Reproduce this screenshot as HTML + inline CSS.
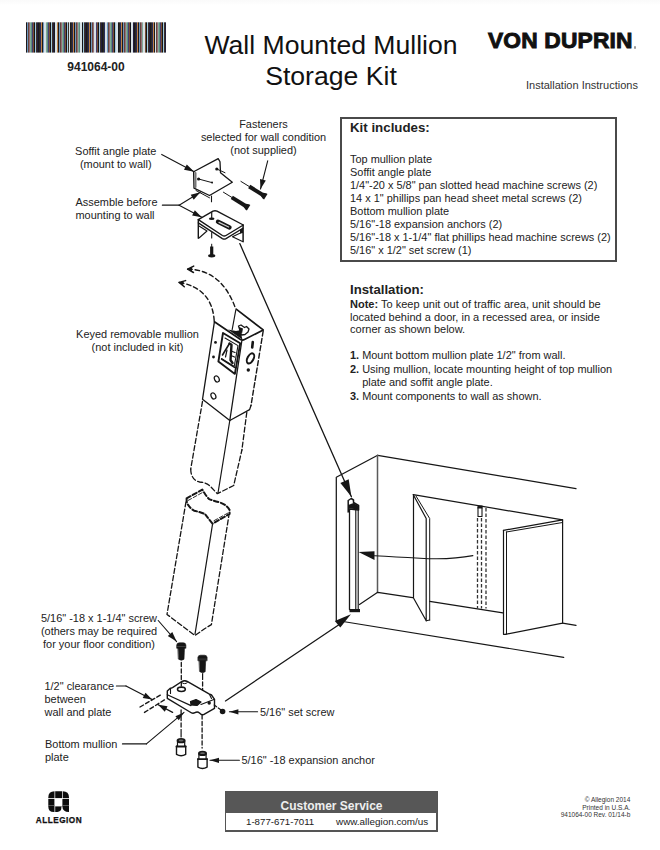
<!DOCTYPE html>
<html><head><meta charset="utf-8">
<style>
html,body{margin:0;padding:0;background:#fff;}
body{width:660px;height:850px;position:relative;overflow:hidden;font-family:"Liberation Sans",sans-serif;color:#222;}
.t{position:absolute;font-size:10.95px;line-height:13px;white-space:pre;}
.c{text-align:center;}
.r{text-align:right;}
b{font-weight:bold;}
svg{position:absolute;left:0;top:0;}
</style></head><body>
<div style="position:absolute;left:0;top:0;width:660px;height:5px;background:linear-gradient(#fafafa,#fdfdfd 70%,#fff)"></div>
<!-- barcode -->
<svg width="660" height="850" style="position:absolute;left:0;top:0" id="barcode"><rect x="26" y="22.3" width="1" height="30.3" fill="rgb(30, 25, 25)"/><rect x="27" y="22.3" width="1" height="30.3" fill="rgb(110, 150, 190)"/><rect x="28" y="22.3" width="1" height="30.3" fill="rgb(100, 70, 60)"/><rect x="29" y="22.3" width="1" height="30.3" fill="rgb(150, 110, 120)"/><rect x="30" y="22.3" width="1" height="30.3" fill="rgb(130, 170, 150)"/><rect x="31" y="22.3" width="1" height="30.3" fill="rgb(90, 140, 130)"/><rect x="32" y="22.3" width="1" height="30.3" fill="rgb(70, 60, 110)"/><rect x="33" y="22.3" width="1" height="30.3" fill="rgb(120, 80, 50)"/><rect x="34" y="22.3" width="1" height="30.3" fill="rgb(20, 20, 25)"/><rect x="35" y="22.3" width="1" height="30.3" fill="rgb(160, 200, 220)"/><rect x="36" y="22.3" width="1" height="30.3" fill="rgb(60, 50, 40)"/><rect x="37" y="22.3" width="1" height="30.3" fill="rgb(35, 30, 60)"/><rect x="38" y="22.3" width="1" height="30.3" fill="rgb(25, 25, 30)"/><rect x="39" y="22.3" width="1" height="30.3" fill="rgb(45, 40, 35)"/><rect x="40" y="22.3" width="1" height="30.3" fill="rgb(40, 45, 90)"/><rect x="41" y="22.3" width="1" height="30.3" fill="rgb(190, 130, 70)"/><rect x="42" y="22.3" width="1" height="30.3" fill="rgb(30, 25, 25)"/><rect x="43" y="22.3" width="1" height="30.3" fill="rgb(110, 150, 190)"/><rect x="44" y="22.3" width="1" height="30.3" fill="rgb(215, 225, 230)"/><rect x="45" y="22.3" width="1" height="30.3" fill="rgb(215, 225, 230)"/><rect x="46" y="22.3" width="1" height="30.3" fill="rgb(130, 170, 150)"/><rect x="47" y="22.3" width="1" height="30.3" fill="rgb(90, 140, 130)"/><rect x="48" y="22.3" width="1" height="30.3" fill="rgb(70, 60, 110)"/><rect x="49" y="22.3" width="1" height="30.3" fill="rgb(120, 80, 50)"/><rect x="50" y="22.3" width="1" height="30.3" fill="rgb(20, 20, 25)"/><rect x="51" y="22.3" width="1" height="30.3" fill="rgb(160, 200, 220)"/><rect x="52" y="22.3" width="1" height="30.3" fill="rgb(60, 50, 40)"/><rect x="53" y="22.3" width="1" height="30.3" fill="rgb(35, 30, 60)"/><rect x="54" y="22.3" width="1" height="30.3" fill="rgb(25, 25, 30)"/><rect x="55" y="22.3" width="1" height="30.3" fill="rgb(215, 225, 230)"/><rect x="56" y="22.3" width="1" height="30.3" fill="rgb(215, 225, 230)"/><rect x="57" y="22.3" width="1" height="30.3" fill="rgb(190, 130, 70)"/><rect x="58" y="22.3" width="1" height="30.3" fill="rgb(30, 25, 25)"/><rect x="59" y="22.3" width="1" height="30.3" fill="rgb(110, 150, 190)"/><rect x="60" y="22.3" width="1" height="30.3" fill="rgb(100, 70, 60)"/><rect x="61" y="22.3" width="1" height="30.3" fill="rgb(150, 110, 120)"/><rect x="62" y="22.3" width="1" height="30.3" fill="rgb(130, 170, 150)"/><rect x="63" y="22.3" width="1" height="30.3" fill="rgb(90, 140, 130)"/><rect x="64" y="22.3" width="1" height="30.3" fill="rgb(70, 60, 110)"/><rect x="65" y="22.3" width="1" height="30.3" fill="rgb(120, 80, 50)"/><rect x="66" y="22.3" width="1" height="30.3" fill="rgb(20, 20, 25)"/><rect x="67" y="22.3" width="1" height="30.3" fill="rgb(160, 200, 220)"/><rect x="68" y="22.3" width="1" height="30.3" fill="rgb(60, 50, 40)"/><rect x="69" y="22.3" width="1" height="30.3" fill="rgb(215, 225, 230)"/><rect x="70" y="22.3" width="1" height="30.3" fill="rgb(25, 25, 30)"/><rect x="71" y="22.3" width="1" height="30.3" fill="rgb(45, 40, 35)"/><rect x="72" y="22.3" width="1" height="30.3" fill="rgb(40, 45, 90)"/><rect x="73" y="22.3" width="1" height="30.3" fill="rgb(190, 130, 70)"/><rect x="74" y="22.3" width="1" height="30.3" fill="rgb(30, 25, 25)"/><rect x="75" y="22.3" width="1" height="30.3" fill="rgb(110, 150, 190)"/><rect x="76" y="22.3" width="1" height="30.3" fill="rgb(100, 70, 60)"/><rect x="77" y="22.3" width="1" height="30.3" fill="rgb(150, 110, 120)"/><rect x="78" y="22.3" width="1" height="30.3" fill="rgb(130, 170, 150)"/><rect x="79" y="22.3" width="1" height="30.3" fill="rgb(90, 140, 130)"/><rect x="80" y="22.3" width="1" height="30.3" fill="rgb(215, 225, 230)"/><rect x="81" y="22.3" width="1" height="30.3" fill="rgb(215, 225, 230)"/><rect x="82" y="22.3" width="1" height="30.3" fill="rgb(20, 20, 25)"/><rect x="83" y="22.3" width="1" height="30.3" fill="rgb(160, 200, 220)"/><rect x="84" y="22.3" width="1" height="30.3" fill="rgb(60, 50, 40)"/><rect x="85" y="22.3" width="1" height="30.3" fill="rgb(35, 30, 60)"/><rect x="86" y="22.3" width="1" height="30.3" fill="rgb(25, 25, 30)"/><rect x="87" y="22.3" width="1" height="30.3" fill="rgb(45, 40, 35)"/><rect x="88" y="22.3" width="1" height="30.3" fill="rgb(40, 45, 90)"/><rect x="89" y="22.3" width="1" height="30.3" fill="rgb(190, 130, 70)"/><rect x="90" y="22.3" width="1" height="30.3" fill="rgb(30, 25, 25)"/><rect x="91" y="22.3" width="1" height="30.3" fill="rgb(110, 150, 190)"/><rect x="92" y="22.3" width="1" height="30.3" fill="rgb(100, 70, 60)"/><rect x="93" y="22.3" width="1" height="30.3" fill="rgb(150, 110, 120)"/><rect x="94" y="22.3" width="1" height="30.3" fill="rgb(215, 225, 230)"/><rect x="95" y="22.3" width="1" height="30.3" fill="rgb(215, 225, 230)"/><rect x="96" y="22.3" width="1" height="30.3" fill="rgb(70, 60, 110)"/><rect x="97" y="22.3" width="1" height="30.3" fill="rgb(120, 80, 50)"/><rect x="98" y="22.3" width="1" height="30.3" fill="rgb(20, 20, 25)"/><rect x="99" y="22.3" width="1" height="30.3" fill="rgb(160, 200, 220)"/><rect x="100" y="22.3" width="1" height="30.3" fill="rgb(60, 50, 40)"/><rect x="101" y="22.3" width="1" height="30.3" fill="rgb(35, 30, 60)"/><rect x="102" y="22.3" width="1" height="30.3" fill="rgb(25, 25, 30)"/><rect x="103" y="22.3" width="1" height="30.3" fill="rgb(45, 40, 35)"/><rect x="104" y="22.3" width="1" height="30.3" fill="rgb(40, 45, 90)"/><rect x="105" y="22.3" width="1" height="30.3" fill="rgb(215, 225, 230)"/><rect x="106" y="22.3" width="1" height="30.3" fill="rgb(215, 225, 230)"/><rect x="107" y="22.3" width="1" height="30.3" fill="rgb(110, 150, 190)"/><rect x="108" y="22.3" width="1" height="30.3" fill="rgb(100, 70, 60)"/><rect x="109" y="22.3" width="1" height="30.3" fill="rgb(150, 110, 120)"/><rect x="110" y="22.3" width="1" height="30.3" fill="rgb(130, 170, 150)"/><rect x="111" y="22.3" width="1" height="30.3" fill="rgb(90, 140, 130)"/><rect x="112" y="22.3" width="1" height="30.3" fill="rgb(70, 60, 110)"/><rect x="113" y="22.3" width="1" height="30.3" fill="rgb(120, 80, 50)"/><rect x="114" y="22.3" width="1" height="30.3" fill="rgb(20, 20, 25)"/><rect x="115" y="22.3" width="1" height="30.3" fill="rgb(160, 200, 220)"/><rect x="116" y="22.3" width="1" height="30.3" fill="rgb(215, 225, 230)"/><rect x="117" y="22.3" width="1" height="30.3" fill="rgb(215, 225, 230)"/><rect x="118" y="22.3" width="1" height="30.3" fill="rgb(25, 25, 30)"/><rect x="119" y="22.3" width="1" height="30.3" fill="rgb(45, 40, 35)"/><rect x="120" y="22.3" width="1" height="30.3" fill="rgb(40, 45, 90)"/><rect x="121" y="22.3" width="1" height="30.3" fill="rgb(190, 130, 70)"/><rect x="122" y="22.3" width="1" height="30.3" fill="rgb(30, 25, 25)"/><rect x="123" y="22.3" width="1" height="30.3" fill="rgb(110, 150, 190)"/><rect x="124" y="22.3" width="1" height="30.3" fill="rgb(100, 70, 60)"/><rect x="125" y="22.3" width="1" height="30.3" fill="rgb(150, 110, 120)"/><rect x="126" y="22.3" width="1" height="30.3" fill="rgb(130, 170, 150)"/><rect x="127" y="22.3" width="1" height="30.3" fill="rgb(90, 140, 130)"/><rect x="128" y="22.3" width="1" height="30.3" fill="rgb(70, 60, 110)"/><rect x="129" y="22.3" width="1" height="30.3" fill="rgb(120, 80, 50)"/><rect x="130" y="22.3" width="1" height="30.3" fill="rgb(20, 20, 25)"/><rect x="131" y="22.3" width="1" height="30.3" fill="rgb(215, 225, 230)"/><rect x="132" y="22.3" width="1" height="30.3" fill="rgb(215, 225, 230)"/><rect x="133" y="22.3" width="1" height="30.3" fill="rgb(35, 30, 60)"/><rect x="134" y="22.3" width="1" height="30.3" fill="rgb(25, 25, 30)"/><rect x="135" y="22.3" width="1" height="30.3" fill="rgb(45, 40, 35)"/><rect x="136" y="22.3" width="1" height="30.3" fill="rgb(40, 45, 90)"/><rect x="137" y="22.3" width="1" height="30.3" fill="rgb(190, 130, 70)"/><rect x="138" y="22.3" width="1" height="30.3" fill="rgb(30, 25, 25)"/><rect x="139" y="22.3" width="1" height="30.3" fill="rgb(110, 150, 190)"/><rect x="140" y="22.3" width="1" height="30.3" fill="rgb(100, 70, 60)"/><rect x="141" y="22.3" width="1" height="30.3" fill="rgb(150, 110, 120)"/><rect x="142" y="22.3" width="1" height="30.3" fill="rgb(130, 170, 150)"/><rect x="143" y="22.3" width="1" height="30.3" fill="rgb(215, 225, 230)"/><rect x="144" y="22.3" width="1" height="30.3" fill="rgb(215, 225, 230)"/><rect x="145" y="22.3" width="1" height="30.3" fill="rgb(120, 80, 50)"/><rect x="146" y="22.3" width="1" height="30.3" fill="rgb(20, 20, 25)"/><rect x="147" y="22.3" width="1" height="30.3" fill="rgb(160, 200, 220)"/><rect x="148" y="22.3" width="1" height="30.3" fill="rgb(60, 50, 40)"/><rect x="149" y="22.3" width="1" height="30.3" fill="rgb(35, 30, 60)"/><rect x="150" y="22.3" width="1" height="30.3" fill="rgb(25, 25, 30)"/><rect x="151" y="22.3" width="1" height="30.3" fill="rgb(45, 40, 35)"/><rect x="152" y="22.3" width="1" height="30.3" fill="rgb(40, 45, 90)"/><rect x="153" y="22.3" width="1" height="30.3" fill="rgb(190, 130, 70)"/><rect x="154" y="22.3" width="1" height="30.3" fill="rgb(30, 25, 25)"/><rect x="155" y="22.3" width="1" height="30.3" fill="rgb(215, 225, 230)"/><rect x="156" y="22.3" width="1" height="30.3" fill="rgb(100, 70, 60)"/><rect x="157" y="22.3" width="1" height="30.3" fill="rgb(150, 110, 120)"/><rect x="158" y="22.3" width="1" height="30.3" fill="rgb(130, 170, 150)"/><rect x="159" y="22.3" width="1" height="30.3" fill="rgb(90, 140, 130)"/><rect x="160" y="22.3" width="1" height="30.3" fill="rgb(70, 60, 110)"/><rect x="161" y="22.3" width="1" height="30.3" fill="rgb(120, 80, 50)"/><rect x="162" y="22.3" width="1" height="30.3" fill="rgb(20, 20, 25)"/><rect x="163" y="22.3" width="1" height="30.3" fill="rgb(160, 200, 220)"/><rect x="164" y="22.3" width="1" height="30.3" fill="rgb(60, 50, 40)"/><rect x="165" y="22.3" width="1" height="30.3" fill="rgb(35, 30, 60)"/>
<path d="M48.3,797.4 Q48.3,791.2 54.5,791.2 L62.8,791.2 Q69,791.2 69,797.4 L69,812.1 Q62.4,811.8 62.4,806.4 L61.4,806.4 L61.4,807.8 Q61.4,811.9 57.3,811.9 L53.8,811.9 Q48.3,811.9 48.3,806.4 Z" fill="#0d0d0d"/>
<rect x="54.8" y="798.4" width="7.6" height="8" fill="#fff"/>
<rect x="54.5" y="791" width="0.7" height="22" fill="#fff"/>
<rect x="62.0" y="791" width="0.7" height="8" fill="#fff"/>
<rect x="48" y="798.0" width="22" height="0.8" fill="#fff"/>
<rect x="48" y="805.2" width="6.6" height="0.6" fill="#888"/><rect x="62.6" y="805.2" width="6.6" height="0.6" fill="#888"/>
</svg>
<div class="t" style="left:67.3px;top:60px;font-size:12px;line-height:14px;font-weight:bold;color:#222">941064-00</div>
<!-- title -->
<div class="t c" style="left:181px;top:29.5px;width:300px;font-size:26.6px;line-height:31px;color:#111">Wall Mounted Mullion
Storage Kit</div>
<div class="t" style="left:487.5px;top:28.3px;font-size:21.5px;line-height:24px;font-weight:bold;letter-spacing:0.15px;color:#111;-webkit-text-stroke:0.9px #111;transform-origin:0 0;transform:scale(1.06,1.03)">VON DUPRIN</div>
<div style="position:absolute;left:633.5px;top:46px;width:2.5px;height:2.5px;border-radius:50%;background:#999"></div>
<div class="t" style="left:526px;top:79px;font-size:11px;line-height:12px;color:#333">Installation Instructions</div>

<!-- kit box -->
<div style="position:absolute;left:340px;top:116.5px;width:276.5px;height:145px;border:2px solid #4a4a4a;border-right-width:2.3px;border-bottom-width:2.3px;box-sizing:border-box"></div>
<div class="t" style="left:350px;top:120.2px;font-size:13.3px;line-height:15px;font-weight:bold">Kit includes:</div>
<div class="t" style="left:350px;top:152.5px">Top mullion plate
Soffit angle plate
1/4"-20 x 5/8" pan slotted head machine screws (2)
14 x 1" phillips pan head sheet metal screws (2)
Bottom mullion plate
5/16"-18 expansion anchors (2)
5/16"-18 x 1-1/4" flat phillips head machine screws (2)
5/16" x 1/2" set screw (1)</div>

<div class="t" style="left:350px;top:281.5px;font-size:13.2px;line-height:15px;font-weight:bold">Installation:</div>
<div class="t" style="left:350px;top:297.9px;line-height:12.7px;font-size:11.02px"><b>Note:</b> To keep unit out of traffic area, unit should be
located behind a door, in a recessed area, or inside
corner as shown below.</div>
<div class="t" style="left:350px;top:349px"><b>1.</b> Mount bottom mullion plate 1/2" from wall.</div>
<div class="t" style="left:350px;top:363px"><b>2.</b> Using mullion, locate mounting height of top mullion
    plate and soffit angle plate.</div>
<div class="t" style="left:350px;top:389.5px"><b>3.</b> Mount components to wall as shown.</div>

<!-- labels -->
<div class="t c" style="left:113.5px;top:117.5px;width:300px">Fasteners
selected for wall condition
(not supplied)</div>
<div class="t c" style="left:-34.25px;top:144.6px;width:300px">Soffit angle plate
(mount to wall)</div>
<div class="t" style="left:75.5px;top:195.5px">Assemble before
mounting to wall</div>
<div class="t c" style="left:37.5px;top:327.7px;width:200px">Keyed removable mullion
(not included in kit)</div>
<div class="t c" style="left:-1px;top:611.7px;width:200px">5/16" -18 x 1-1/4" screw
(others may be required
for your floor condition)</div>
<div class="t" style="left:44.5px;top:680px">1/2" clearance
between
wall and plate</div>
<div class="t" style="left:45px;top:737.7px">Bottom mullion
plate</div>
<div class="t" style="left:260px;top:705.5px">5/16" set screw</div>
<div class="t" style="left:241.5px;top:754px">5/16" -18 expansion anchor</div>

<!-- footer -->
<div style="position:absolute;left:225px;top:790.5px;width:213px;height:41px;border:1.5px solid #555;border-right-width:2px;border-bottom-width:2px;box-sizing:border-box;background:#fff"></div>
<div style="position:absolute;left:226px;top:791.5px;width:211px;height:21px;background:#575757"></div>
<div class="t" style="left:280.5px;top:799px;font-size:12px;line-height:14px;font-weight:bold;color:#eee">Customer Service</div>
<div class="t" style="left:246px;top:816px;font-size:9.7px;line-height:11px;color:#222">1-877-671-7011</div>
<div class="t" style="left:336px;top:816px;font-size:9.9px;line-height:11px;color:#222">www.allegion.com/us</div>
<div class="t" style="left:35.8px;top:815.5px;font-size:8.2px;line-height:9px;font-weight:bold;letter-spacing:0.5px;color:#111;-webkit-text-stroke:0.25px #111">ALLEGION</div>
<div class="t r" style="left:530.3px;top:796px;width:100px;font-size:6.5px;line-height:7.6px;color:#333">© Allegion 2014
Printed in U.S.A.
941064-00 Rev. 01/14-b</div>

<svg width="660" height="850" viewBox="0 0 660 850" id="draw">
<path d="M161.7,154.4 L194.2,171.8" fill="none" stroke="#161616" stroke-width="1.1" stroke-linecap="round" stroke-linejoin="round"/>
<polygon points="194.2,171.8 184.0,169.7 186.8,164.4" fill="#161616"/>
<path d="M162.4,205.2 L179.1,205.2" fill="none" stroke="#161616" stroke-width="1.2" stroke-linecap="round" stroke-linejoin="round"/>
<path d="M179.1,205.2 L200.3,192.3" fill="none" stroke="#161616" stroke-width="1.1" stroke-linecap="round" stroke-linejoin="round"/>
<polygon points="200.3,192.3 193.7,199.7 190.7,194.8" fill="#161616"/>
<path d="M179.1,205.2 L201.8,217.3" fill="none" stroke="#161616" stroke-width="1.1" stroke-linecap="round" stroke-linejoin="round"/>
<polygon points="201.8,217.3 192.1,215.4 194.8,210.3" fill="#161616"/>
<path d="M267.7,160.9 L260.5,189.0" fill="none" stroke="#161616" stroke-width="1.1" stroke-linecap="round" stroke-linejoin="round"/>
<polygon points="260.5,189.0 260.0,179.1 265.8,180.5" fill="#161616"/>
<path d="M240.9,181.4 L249.2,186.5" fill="none" stroke="#161616" stroke-width="1.0" stroke-linecap="round" stroke-linejoin="round"/>
<path d="M249.2,186.5 L264.5,196.0" fill="none" stroke="#161616" stroke-width="4.0" stroke-linecap="butt" stroke-linejoin="round"/>
<polygon points="260.9,196.1 262.8,198.8 264.1,199.6 267.5,194.0 266.2,193.2 263.0,192.7" fill="#161616"/>
<path d="M223.4,192.2 L231.8,197.4" fill="none" stroke="#161616" stroke-width="1.0" stroke-linecap="round" stroke-linejoin="round"/>
<path d="M231.8,197.4 L247.3,207.0" fill="none" stroke="#161616" stroke-width="4.0" stroke-linecap="butt" stroke-linejoin="round"/>
<polygon points="243.7,207.1 245.6,209.8 246.9,210.6 250.3,205.0 249.0,204.2 245.8,203.7" fill="#161616"/>
<path d="M193.6,171.8 L218.2,158.6 L220.0,161.8 L220.5,172.7 L232.3,182.3 L209.5,195.5 L194.0,188.2 L193.6,171.8" fill="none" stroke="#161616" stroke-width="1.3" stroke-linecap="round" stroke-linejoin="round"/>
<path d="M195.5,173.0 L195.5,187.0" fill="none" stroke="#777" stroke-width="2" stroke-linecap="round" stroke-linejoin="round"/>
<path d="M196.0,190.5 L209.5,197.8" fill="none" stroke="#161616" stroke-width="1.0" stroke-linecap="round" stroke-linejoin="round"/>
<path d="M211.5,196.0 L211.5,201.7" fill="none" stroke="#161616" stroke-width="1.1" stroke-linecap="round" stroke-linejoin="round"/>
<path d="M198.6,179.0 L212.3,182.7" fill="none" stroke="#161616" stroke-width="1.0" stroke-linecap="round" stroke-linejoin="round"/>
<circle cx="198.6" cy="179" r="1.6" fill="#161616"/>
<circle cx="212" cy="182.6" r="1.0" fill="#161616"/>
<path d="M216.8,169.0 L225.0,172.7" fill="none" stroke="#161616" stroke-width="1.0" stroke-linecap="round" stroke-linejoin="round"/>
<circle cx="216.8" cy="169" r="1.6" fill="#161616"/>
<path d="M198.3,219.6 L213,211.2 Q215,210.2 217,211.2 L243.3,225 L226,235.5 Q224.2,236.6 222.4,235.5 Z" fill="none" stroke="#161616" stroke-width="1.4" stroke-linecap="round" stroke-linejoin="round"/>
<path d="M198.3,219.6 L198.3,238.3" fill="none" stroke="#161616" stroke-width="1.4" stroke-linecap="round" stroke-linejoin="round"/>
<path d="M198.3,222.9 L222.4,238.6 Q224.2,239.6 226,238.6 L242.9,228.3" fill="none" stroke="#161616" stroke-width="1.3" stroke-linecap="round" stroke-linejoin="round"/>
<path d="M243.1,225 L243.1,241.7" fill="none" stroke="#161616" stroke-width="1.5" stroke-linecap="round" stroke-linejoin="round"/>
<path d="M199,226 L207,231 L199,238" fill="none" stroke="#161616" stroke-width="1.1" stroke-linecap="round" stroke-linejoin="round"/>
<path d="M242.5,232 L232.5,236.7 L242.5,241.5" fill="none" stroke="#161616" stroke-width="1.1" stroke-linecap="round" stroke-linejoin="round"/>
<polygon points="240,229.5 243,228 243,233 240,233.5" fill="#161616"/>
<path d="M218,221.8 L229.5,227.4" fill="none" stroke="#161616" stroke-width="4.4" stroke-linecap="round" stroke-linejoin="round"/>
<path d="M219,222.4 L228.6,227.0" fill="none" stroke="#ccc" stroke-width="1.2" stroke-linecap="round" stroke-linejoin="round"/>
<path d="M211.7,212.5 L211.7,218.5" fill="none" stroke="#161616" stroke-width="1.2" stroke-linecap="round" stroke-linejoin="round"/>
<ellipse cx="211.7" cy="218.8" rx="2.8" ry="1.3" fill="#161616"/>
<path d="M211.7,232.5 L211.7,238.0" fill="none" stroke="#161616" stroke-width="1.1" stroke-linecap="round" stroke-linejoin="round"/>
<path d="M211.7,244.2 L211.7,247.0" fill="none" stroke="#161616" stroke-width="1.0" stroke-linecap="round" stroke-linejoin="round"/>
<path d="M211.7,246.5 L211.7,255.0" fill="none" stroke="#161616" stroke-width="3.2" stroke-linecap="butt" stroke-linejoin="round"/>
<ellipse cx="211.7" cy="255.8" rx="3.6" ry="1.7" fill="#161616"/>
<path d="M239.8,243.6 L351.4,496.7" fill="none" stroke="#161616" stroke-width="1.3" stroke-linecap="round" stroke-linejoin="round"/>
<polygon points="351.4,496.7 340.4,483.0 348.7,479.3" fill="#161616"/>
<path d="M187.6,269.1 Q222,270 235.5,308.5" fill="none" stroke="#161616" stroke-width="1.4" stroke-linecap="round" stroke-linejoin="round" stroke-dasharray="4.5,3"/>
<path d="M179.1,282.4 Q212,288 214.2,320.6" fill="none" stroke="#161616" stroke-width="1.4" stroke-linecap="round" stroke-linejoin="round" stroke-dasharray="4.5,3"/>
<path d="M193.7,266.1 L187.6,269.1 L193.5,272.5" fill="none" stroke="#161616" stroke-width="1.5" stroke-linecap="round" stroke-linejoin="round"/>
<polygon points="187.6,269.1 192.2,267.3 192.0,271.2" fill="#161616"/>
<path d="M185.6,280.6 L179.1,282.4 L184.3,286.8" fill="none" stroke="#161616" stroke-width="1.5" stroke-linecap="round" stroke-linejoin="round"/>
<polygon points="179.1,282.4 183.9,281.5 183.1,285.2" fill="#161616"/>
<path d="M214.4,321.8 L240.5,339.5 Q242.5,340.6 244.5,339.6 L263.2,329.9 L236.2,309.1" fill="none" stroke="#161616" stroke-width="1.7" stroke-linecap="round" stroke-linejoin="round"/>
<path d="M235.8,310.0 L232.2,329.5" fill="none" stroke="#161616" stroke-width="1.2" stroke-linecap="round" stroke-linejoin="round"/>
<path d="M214.4,321.8 L202.5,399.3 L229.8,420.5 L249.6,409.6 L251.0,405.5" fill="none" stroke="#161616" stroke-width="1.3" stroke-linecap="round" stroke-linejoin="round"/>
<path d="M241.8,341.0 L229.8,420.5" fill="none" stroke="#161616" stroke-width="1.3" stroke-linecap="round" stroke-linejoin="round"/>
<path d="M263.2,331.0 L251.0,405.5" fill="none" stroke="#161616" stroke-width="1.4" stroke-linecap="round" stroke-linejoin="round" stroke-dasharray="5,2.5"/>
<path d="M223,333 L240.2,343.3 L234.9,373.9 L218.4,361.6 Z" fill="none" stroke="#161616" stroke-width="1.9" stroke-linecap="round" stroke-linejoin="round"/>
<path d="M225,338 L238,345.6 L234.2,366.5 L221.5,358.5" fill="none" stroke="#161616" stroke-width="1.1" stroke-linecap="round" stroke-linejoin="round"/>
<path d="M221.5,359.2 L234.5,367.4" fill="none" stroke="#161616" stroke-width="1.4" stroke-linecap="round" stroke-linejoin="round"/>
<path d="M222.5,355 L229.5,343.5" fill="none" stroke="#161616" stroke-width="1.6" stroke-linecap="round" stroke-linejoin="round"/>
<path d="M229.5,343.5 L231.5,344.8 L230.5,360 L232.5,363" fill="none" stroke="#161616" stroke-width="2.4" stroke-linecap="round" stroke-linejoin="round"/>
<path d="M231,351 L235,352.5 M231,355.5 L234.5,357" fill="none" stroke="#161616" stroke-width="1.3" stroke-linecap="round" stroke-linejoin="round"/>
<path d="M227,350 L225.5,357" fill="none" stroke="#161616" stroke-width="1.2" stroke-linecap="round" stroke-linejoin="round"/>
<polygon points="228,329.5 242.5,339.8 240.2,330.3 236,331" fill="#161616"/>
<path d="M238.5,326 L241,325 L244.5,327.5 L246.5,326.5 L249,329 L248,332 L245,334.5 L241.5,335 Z" fill="none" stroke="#161616" stroke-width="1.3" stroke-linecap="round" stroke-linejoin="round"/>
<polygon points="239,327 243,328.5 242,333.5 239.5,331" fill="#161616"/>
<ellipse cx="215.5" cy="342.4" rx="1.4" ry="1.4" fill="#161616"/>
<ellipse cx="213.5" cy="357" rx="1.4" ry="1.4" fill="#161616"/>
<ellipse cx="250.5" cy="358.4" rx="5.5" ry="3.0" transform="rotate(-62 250.5 358.4)" fill="none" stroke="#161616" stroke-width="2.0"/>
<path d="M252.8,342 L252.2,347.5" fill="none" stroke="#161616" stroke-width="2.6" stroke-linecap="round" stroke-linejoin="round"/>
<ellipse cx="248.3" cy="370" rx="1.7" ry="1.7" fill="#161616"/>
<ellipse cx="216.8" cy="378.9" rx="2.3" ry="3.2" transform="rotate(-25 216.8 378.9)" fill="none" stroke="#161616" stroke-width="1.2"/>
<ellipse cx="213.4" cy="395.9" rx="2.3" ry="3.2" transform="rotate(-25 213.4 395.9)" fill="none" stroke="#161616" stroke-width="1.2"/>
<path d="M202.5,401.4 L190.7,469.1" fill="none" stroke="#161616" stroke-width="1.3" stroke-linecap="round" stroke-linejoin="round" stroke-dasharray="5,2.5"/>
<path d="M190.7,469.1 Q191,480 199.6,482 Q207,482.5 211,487 L217.3,493.7 L233.7,485.5 L241.9,450" fill="none" stroke="#161616" stroke-width="1.3" stroke-linecap="round" stroke-linejoin="round" stroke-dasharray="5,2.5"/>
<path d="M246.8,412.3 L241.9,450.0" fill="none" stroke="#161616" stroke-width="1.3" stroke-linecap="round" stroke-linejoin="round" stroke-dasharray="5,2.5"/>
<path d="M229.8,420.5 L218.0,493.0" fill="none" stroke="#161616" stroke-width="1.2" stroke-linecap="round" stroke-linejoin="round"/>
<path d="M186.6,498.4 L202.3,489.6 Q206,496 209.1,499.1 Q214,501 220,502.5 Q227,505 229.6,510 L229.6,514 L212.5,523.7 Q208,518 205,514.1 Q200,512 194.1,510.7 Q187,506 186.6,500.5 Z" fill="none" stroke="#161616" stroke-width="2.0" stroke-linecap="round" stroke-linejoin="round" stroke-dasharray="4.5,2.5"/>
<path d="M188.0,500.5 L202.5,492.5" fill="none" stroke="#161616" stroke-width="0.9" stroke-linecap="round" stroke-linejoin="round" stroke-dasharray="4,2"/>
<path d="M228.0,513.0 L212.5,521.5" fill="none" stroke="#161616" stroke-width="0.9" stroke-linecap="round" stroke-linejoin="round" stroke-dasharray="4,2"/>
<path d="M186.0,501.8 L167.0,614.4 L195.0,635.5 L204.6,628.7 L211.4,624.6 L228.9,515.5" fill="none" stroke="#161616" stroke-width="1.3" stroke-linecap="round" stroke-linejoin="round" stroke-dasharray="5,2.5"/>
<path d="M212.5,524.4 L195.0,634.1" fill="none" stroke="#161616" stroke-width="1.2" stroke-linecap="round" stroke-linejoin="round"/>
<path d="M158.2,620.5 L176.6,641.6" fill="none" stroke="#161616" stroke-width="1.1" stroke-linecap="round" stroke-linejoin="round"/>
<polygon points="176.6,641.6 167.8,636.0 172.3,632.1" fill="#161616"/>
<path d="M176.70000000000002,648.0 L176.70000000000002,645.0 Q176.9,642.8 179.3,642.8 L183.3,642.8 Q185.70000000000002,642.8 185.9,645.0 L185.9,648.0 Z" fill="#161616" stroke="#161616" stroke-width="0.6" stroke-linecap="round" stroke-linejoin="round"/>
<path d="M178.10000000000002,647.8 L184.5,647.8 L184.0,659.3 Q181.3,661.4 178.60000000000002,659.3 Z" fill="#161616" stroke="#161616" stroke-width="0.6" stroke-linecap="round" stroke-linejoin="round"/>
<rect x="176.9" y="646.4" width="8.8" height="0.5" fill="#666"/>
<path d="M181.3,662.5 L181.3,686.0" fill="none" stroke="#161616" stroke-width="1.3" stroke-linecap="round" stroke-linejoin="round" stroke-dasharray="4,2.5"/>
<path d="M197.9,660.4000000000001 L197.9,657.4000000000001 Q198.1,655.2 200.5,655.2 L204.5,655.2 Q206.9,655.2 207.1,657.4000000000001 L207.1,660.4000000000001 Z" fill="#161616" stroke="#161616" stroke-width="0.6" stroke-linecap="round" stroke-linejoin="round"/>
<path d="M199.3,660.2 L205.7,660.2 L205.2,671.7 Q202.5,673.8000000000001 199.8,671.7 Z" fill="#161616" stroke="#161616" stroke-width="0.6" stroke-linecap="round" stroke-linejoin="round"/>
<rect x="198.1" y="658.8000000000001" width="8.8" height="0.5" fill="#666"/>
<path d="M202.6,673.5 L202.6,679.5" fill="none" stroke="#161616" stroke-width="1.2" stroke-linecap="round" stroke-linejoin="round"/>
<path d="M202.6,682.0 L202.6,690.0" fill="none" stroke="#161616" stroke-width="1.3" stroke-linecap="round" stroke-linejoin="round" stroke-dasharray="4,2.5"/>
<path d="M167.3,691.1 L170,688.5 L172.5,687.6 L181.8,681.5 Q184.5,679.8 187.2,681.3 L209,693.8 L211.5,695 L214.5,699.3 L214.5,708.4 L203.6,714.7 Q201.5,715.3 199.5,713 Q197.5,711.2 195,712.6 Q192.5,714 190,712 L167.3,698.4 Z" fill="none" stroke="#161616" stroke-width="1.4" stroke-linecap="round" stroke-linejoin="round"/>
<path d="M167.3,694.7 L191,705.6" fill="none" stroke="#161616" stroke-width="1.2" stroke-linecap="round" stroke-linejoin="round"/>
<path d="M201,704.5 L214.5,699.3" fill="none" stroke="#161616" stroke-width="1.2" stroke-linecap="round" stroke-linejoin="round"/>
<ellipse cx="181.4" cy="689.3" rx="3.9" ry="2.2" fill="none" stroke="#161616" stroke-width="1.6"/>
<ellipse cx="184.6" cy="682.3" rx="2.6" ry="1.3" fill="none" stroke="#161616" stroke-width="1.0"/>
<path d="M190.5,701.5 L196,699.6 L201,702 L197,705.5 L191,705 Z" fill="#161616" stroke="#161616" stroke-width="1.2" stroke-linecap="round" stroke-linejoin="round"/>
<circle cx="209.2" cy="703" r="1.7" fill="#161616"/>
<path d="M170.5,689.0 L170.5,693.5" fill="none" stroke="#161616" stroke-width="1.1" stroke-linecap="round" stroke-linejoin="round"/>
<path d="M209.5,694.5 L211.5,698.5" fill="none" stroke="#161616" stroke-width="1.1" stroke-linecap="round" stroke-linejoin="round"/>
<path d="M214.2,705.0 L222.6,711.0" fill="none" stroke="#161616" stroke-width="1.2" stroke-linecap="round" stroke-linejoin="round" stroke-dasharray="3,2"/>
<circle cx="222.6" cy="711.5" r="2.8" fill="#161616"/>
<path d="M257.6,711.8 L229.4,711.8" fill="none" stroke="#161616" stroke-width="1.1" stroke-linecap="round" stroke-linejoin="round"/>
<polygon points="229.4,711.8 238.4,709.2 238.4,714.4" fill="#161616"/>
<path d="M181.1,710.0 L181.1,727.0" fill="none" stroke="#161616" stroke-width="1.3" stroke-linecap="round" stroke-linejoin="round" stroke-dasharray="4,2.5"/>
<path d="M181.1,729.5 L181.1,737.0" fill="none" stroke="#161616" stroke-width="1.2" stroke-linecap="round" stroke-linejoin="round"/>
<path d="M202.1,715.0 L202.1,748.0" fill="none" stroke="#161616" stroke-width="1.3" stroke-linecap="round" stroke-linejoin="round" stroke-dasharray="4,2.5"/>
<path d="M140.0,707.0 L160.5,695.0" fill="none" stroke="#161616" stroke-width="1.4" stroke-linecap="round" stroke-linejoin="round" stroke-dasharray="4,2.5"/>
<path d="M144.5,712.4 L165.0,699.5" fill="none" stroke="#161616" stroke-width="1.4" stroke-linecap="round" stroke-linejoin="round" stroke-dasharray="4,2.5"/>
<path d="M116.4,686.0 L126.0,686.0" fill="none" stroke="#161616" stroke-width="1.2" stroke-linecap="round" stroke-linejoin="round"/>
<path d="M126.0,686.0 L152.1,699.5" fill="none" stroke="#161616" stroke-width="1.3" stroke-linecap="round" stroke-linejoin="round"/>
<polygon points="152.1,699.5 142.7,698.0 145.5,692.7" fill="#161616"/>
<path d="M172.6,712.4 L158.2,704.8" fill="none" stroke="#161616" stroke-width="1.3" stroke-linecap="round" stroke-linejoin="round"/>
<polygon points="158.2,704.8 167.6,706.3 164.8,711.7" fill="#161616"/>
<path d="M122.5,743.9 L146.4,743.9" fill="none" stroke="#161616" stroke-width="1.2" stroke-linecap="round" stroke-linejoin="round"/>
<path d="M146.4,743.9 L184.0,712.4" fill="none" stroke="#161616" stroke-width="1.1" stroke-linecap="round" stroke-linejoin="round"/>
<polygon points="184.0,712.4 178.8,720.2 175.4,716.2" fill="#161616"/>
<path d="M176.5,746.1999999999999 L176.5,754.4 Q181.1,757.1 185.7,754.4 L185.7,746.1999999999999" fill="#fff" stroke="#161616" stroke-width="1.4" stroke-linecap="round" stroke-linejoin="round"/>
<path d="M177.5,741.9 L177.5,746.1999999999999 M184.7,741.9 L184.7,746.1999999999999" fill="none" stroke="#161616" stroke-width="1.2" stroke-linecap="round" stroke-linejoin="round"/>
<path d="M176.5,746.5 L185.7,746.5" fill="none" stroke="#161616" stroke-width="1.8" stroke-linecap="round" stroke-linejoin="round"/>
<ellipse cx="181.1" cy="740.6999999999999" rx="4.5" ry="2.6" fill="#161616"/>
<ellipse cx="181.1" cy="740.5" rx="2.4" ry="0.9" fill="#666"/>
<path d="M197.9,758.9 L197.9,767.1 Q202.5,769.8000000000001 207.1,767.1 L207.1,758.9" fill="#fff" stroke="#161616" stroke-width="1.4" stroke-linecap="round" stroke-linejoin="round"/>
<path d="M198.9,754.6 L198.9,758.9 M206.1,754.6 L206.1,758.9" fill="none" stroke="#161616" stroke-width="1.2" stroke-linecap="round" stroke-linejoin="round"/>
<path d="M197.9,759.2 L207.1,759.2" fill="none" stroke="#161616" stroke-width="1.8" stroke-linecap="round" stroke-linejoin="round"/>
<ellipse cx="202.5" cy="753.4" rx="4.5" ry="2.6" fill="#161616"/>
<ellipse cx="202.5" cy="753.2" rx="2.4" ry="0.9" fill="#666"/>
<path d="M239.4,760.3 L210.0,760.3" fill="none" stroke="#161616" stroke-width="1.1" stroke-linecap="round" stroke-linejoin="round"/>
<polygon points="210.0,760.3 219.0,757.7 219.0,762.9" fill="#161616"/>
<path d="M225.5,701.0 L340.0,624.0" fill="none" stroke="#161616" stroke-width="1.25" stroke-linecap="round" stroke-linejoin="round"/>
<polygon points="350.9,614.2 334.8,620.9 340.3,627.6" fill="#161616"/>
<path d="M336.3,620.6 L336.3,477.3 L377.7,455.3 L576.0,488.6" fill="none" stroke="#161616" stroke-width="1.25" stroke-linecap="round" stroke-linejoin="round"/>
<path d="M377.5,455.3 L377.5,592.3" fill="none" stroke="#5a5a5a" stroke-width="1.5" stroke-linecap="round" stroke-linejoin="round"/>
<path d="M343.0,621.5 L563.7,657.3" fill="none" stroke="#161616" stroke-width="1.2" stroke-linecap="round" stroke-linejoin="round"/>
<path d="M359.5,604.5 L377.7,592.3 L412.6,597.6" fill="none" stroke="#161616" stroke-width="1.2" stroke-linecap="round" stroke-linejoin="round"/>
<path d="M413.3,494.7 L562.6,519.9" fill="none" stroke="#161616" stroke-width="1.2" stroke-linecap="round" stroke-linejoin="round"/>
<path d="M413.5,494.7 L413.5,597.6" fill="none" stroke="#161616" stroke-width="1.2" stroke-linecap="round" stroke-linejoin="round"/>
<path d="M413.3,494.7 L426.2,518.5 L426.2,620.8 L413.5,598" fill="none" stroke="#161616" stroke-width="1.2" stroke-linecap="round" stroke-linejoin="round"/>
<path d="M416.0,496.0 L429.7,518.5 L429.7,620.0" fill="none" stroke="#161616" stroke-width="1.0" stroke-linecap="round" stroke-linejoin="round"/>
<path d="M426.2,620.8 L429.7,620.0" fill="none" stroke="#161616" stroke-width="1.1" stroke-linecap="round" stroke-linejoin="round"/>
<path d="M429.7,601.4 L502.9,612.9" fill="none" stroke="#161616" stroke-width="1.2" stroke-linecap="round" stroke-linejoin="round"/>
<path d="M477.5,518.0 L477.5,608.5" fill="none" stroke="#333" stroke-width="1.3" stroke-linecap="butt" stroke-linejoin="round" stroke-dasharray="3.5,2"/>
<path d="M481.5,518.0 L481.5,608.5" fill="none" stroke="#333" stroke-width="1.3" stroke-linecap="butt" stroke-linejoin="round" stroke-dasharray="3.5,2"/>
<path d="M486.0,508.0 L486.0,608.5" fill="none" stroke="#333" stroke-width="1.3" stroke-linecap="butt" stroke-linejoin="round" stroke-dasharray="3.5,2"/>
<path d="M478,507.5 L482,507.5 L482,516.5 L478,516.5 Z" fill="none" stroke="#161616" stroke-width="1.1" stroke-linecap="round" stroke-linejoin="round"/>
<rect x="477.5" y="505.5" width="5" height="3" fill="#161616"/>
<path d="M503.4,530.4 L562.6,519.9 L562.6,623.1 L505.6,634.3" fill="none" stroke="#161616" stroke-width="1.2" stroke-linecap="round" stroke-linejoin="round"/>
<path d="M503.5,530.4 L503.5,634.3 L505.6,634.3" fill="none" stroke="#161616" stroke-width="1.2" stroke-linecap="round" stroke-linejoin="round"/>
<path d="M506.3,532.0 L562.6,522.5" fill="none" stroke="#161616" stroke-width="1.0" stroke-linecap="round" stroke-linejoin="round"/>
<path d="M506.5,532.0 L506.5,634.0" fill="none" stroke="#161616" stroke-width="1.0" stroke-linecap="round" stroke-linejoin="round"/>
<path d="M562.6,623.1 L576.0,625.4" fill="none" stroke="#161616" stroke-width="1.2" stroke-linecap="round" stroke-linejoin="round"/>
<path d="M349.5,510.0 L349.5,609.5" fill="none" stroke="#161616" stroke-width="1.3" stroke-linecap="round" stroke-linejoin="round"/>
<path d="M355.7,510.0 L355.7,609.5" fill="none" stroke="#333" stroke-width="1.2" stroke-linecap="round" stroke-linejoin="round"/>
<path d="M358.3,508.0 L358.3,609.5" fill="none" stroke="#333" stroke-width="1.2" stroke-linecap="round" stroke-linejoin="round"/>
<rect x="356" y="510" width="2" height="100" fill="#aaa"/>
<path d="M348.2,512 L348.2,500.5 L351.2,498.5 L353.5,500 L353.5,502.5 L358.6,505.5 L358.6,510 L349.5,509 Z" fill="none" stroke="#161616" stroke-width="1.5" stroke-linecap="round" stroke-linejoin="round"/>
<polygon points="348.2,505 353.5,503 358.6,506 358.6,509.5 349.5,508.5 348.2,512" fill="#161616"/>
<rect x="349.5" y="609" width="10.5" height="3.2" fill="#161616"/>
<path d="M472.9,555.6 Q450,560 420,558.2 Q395,557 374.5,555.8" fill="none" stroke="#161616" stroke-width="1.1" stroke-linecap="round" stroke-linejoin="round"/>
<polygon points="358.5,552.1 374.5,551.2 374.5,560" fill="#161616"/>
</svg>
</body></html>
